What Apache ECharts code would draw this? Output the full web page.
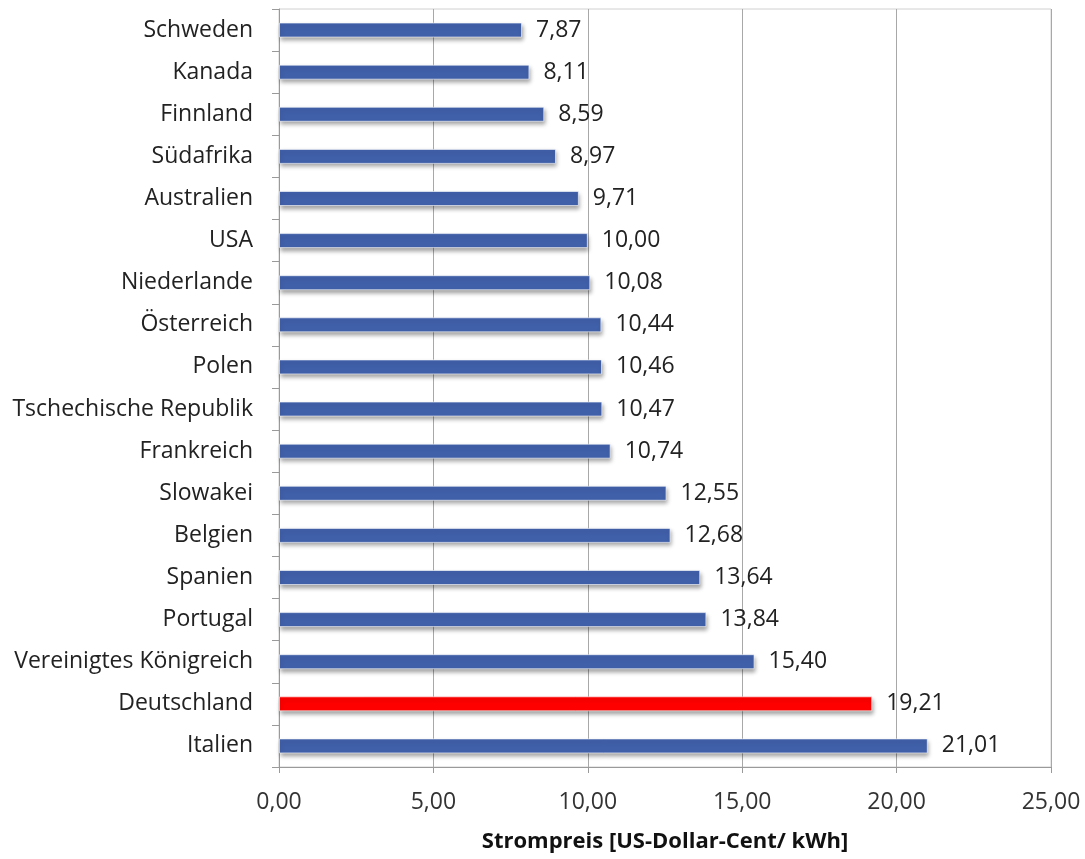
<!DOCTYPE html>
<html>
<head>
<meta charset="utf-8">
<script src="https://cdn.jsdelivr.net/npm/echarts@6/dist/echarts.min.js"></script>
<style>
  html, body { margin: 0; padding: 0; background: #fff; }
  #chart { width: 1085px; height: 859px; }
</style>
</head>
<body>
<div id="chart"></div>
<script>
// Strompreise nach Ländern, von oben nach unten
const countries = [
  'Schweden', 'Kanada', 'Finnland', 'Südafrika', 'Australien', 'USA',
  'Niederlande', 'Österreich', 'Polen', 'Tschechische Republik', 'Frankreich',
  'Slowakei', 'Belgien', 'Spanien', 'Portugal', 'Vereinigtes Königreich',
  'Deutschland', 'Italien'
];
const prices = [
  7.87, 8.11, 8.59, 8.97, 9.71, 10.00, 10.08, 10.44, 10.46, 10.47, 10.74,
  12.55, 12.68, 13.64, 13.84, 15.40, 19.21, 21.01
];
const highlighted = 'Deutschland';
const axisTitle = 'Strompreis [US-Dollar-Cent/ kWh]';

const fontFamily = '"Open Sans", "Liberation Sans", sans-serif';
const fmt = v => v.toFixed(2).replace('.', ',');

const chart = echarts.init(document.getElementById('chart'), null, { renderer: 'canvas' });
chart.setOption({
  animation: false,
  backgroundColor: '#ffffff',
  grid: { left: 279, right: 34, top: 9, bottom: 92, show: true, borderColor: '#d0d0d0', borderWidth: 1 },
  xAxis: {
    type: 'value',
    min: 0, max: 25, interval: 5,
    name: axisTitle,
    nameLocation: 'middle',
    nameGap: 64,
    nameTextStyle: { fontFamily, fontSize: 22, fontWeight: 'bold', color: '#111' },
    axisLine: { show: true, lineStyle: { color: '#9a9a9a' } },
    axisTick: { show: true, length: 6, lineStyle: { color: '#9a9a9a' } },
    axisLabel: { formatter: fmt, fontFamily, fontSize: 23, color: '#333', margin: 24 },
    splitLine: { show: true, lineStyle: { color: '#a8a8a8', width: 1 } }
  },
  yAxis: {
    type: 'category',
    inverse: true,
    data: countries,
    axisLine: { show: true, lineStyle: { color: '#9a9a9a' } },
    axisTick: { show: true, length: 7, lineStyle: { color: '#9a9a9a' } },
    axisLabel: { fontFamily, fontSize: 23, color: '#222', margin: 26, padding: [4, 0, 0, 0] }
  },
  series: [{
    type: 'bar',
    data: prices.map((v, i) => ({
      value: v,
      itemStyle: { color: countries[i] === highlighted ? '#ff0000' : '#4060aa' }
    })),
    barWidth: 15,
    itemStyle: {
      borderColor: 'rgba(255,255,255,0.6)',
      borderWidth: 1,
      shadowColor: 'rgba(0,0,0,0.35)',
      shadowBlur: 4,
      shadowOffsetX: 1,
      shadowOffsetY: 3
    },
    label: {
      show: true,
      position: 'right',
      distance: 14,
      padding: [5, 0, 0, 0],
      formatter: p => fmt(p.value),
      fontFamily, fontSize: 23, color: '#222'
    }
  }]
});
</script>
</body>
</html>
